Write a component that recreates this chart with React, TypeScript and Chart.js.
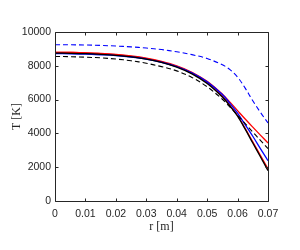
import React, { useEffect, useRef } from "react";
import { Chart, registerables } from "chart.js";

Chart.register(...registerables);

const radius = [0, 0.005, 0.01, 0.015, 0.02, 0.025, 0.03, 0.035, 0.04, 0.045, 0.05, 0.055, 0.0575, 0.06, 0.0625, 0.065, 0.0675, 0.07];
const blueDashed = [9250, 9245, 9230, 9205, 9170, 9120, 9050, 8960, 8830, 8660, 8430, 8060, 7770, 7330, 6680, 5930, 5250, 4620];
const redUpper = [8800, 8790, 8770, 8730, 8670, 8580, 8450, 8260, 8000, 7620, 7080, 6320, 5850, 5350, 4850, 4370, 3900, 3430];
const blackDashed = [8550, 8540, 8510, 8470, 8400, 8300, 8150, 7950, 7700, 7310, 6760, 6020, 5560, 5080, 4580, 4080, 3590, 3100];
const blackSolid = [8750, 8740, 8720, 8680, 8620, 8530, 8400, 8200, 7920, 7520, 6950, 6150, 5620, 5020, 4250, 3430, 2620, 1800];
const blueSolid = [8720, 8710, 8690, 8650, 8600, 8520, 8400, 8210, 7950, 7580, 7050, 6300, 5780, 5200, 4520, 3830, 3100, 2380];
const redLower = [8800, 8790, 8770, 8720, 8660, 8560, 8430, 8230, 7960, 7570, 7000, 6200, 5660, 5060, 4300, 3500, 2700, 1900];

const xTicks = [0, 0.01, 0.02, 0.03, 0.04, 0.05, 0.06, 0.07];
const yTicks = [0, 2000, 4000, 6000, 8000, 10000];

const AXIS_COLOR = "#262626";

const boxPlugin = {
  id: "matlabBox",
  afterDatasetsDraw(chart: any) {
    const { ctx, chartArea } = chart;
    const { left, right, top, bottom } = chartArea;
    const L = Math.round(left) + 0.5;
    const R = Math.round(right) + 0.5;
    const T = Math.round(top) + 0.5;
    const B = Math.round(bottom) + 0.5;
    const len = 3;
    ctx.save();
    ctx.strokeStyle = AXIS_COLOR;
    ctx.lineWidth = 1;
    ctx.beginPath();
    ctx.rect(L, T, R - L, B - T);
    ctx.stroke();
    const xs = chart.scales.x;
    const ys = chart.scales.y;
    ctx.beginPath();
    xs.ticks.forEach((t: any) => {
      const px = Math.round(xs.getPixelForValue(t.value)) + 0.5;
      ctx.moveTo(px, B);
      ctx.lineTo(px, B - len);
      ctx.moveTo(px, T);
      ctx.lineTo(px, T + len);
    });
    ys.ticks.forEach((t: any) => {
      const py = Math.round(ys.getPixelForValue(t.value)) + 0.5;
      ctx.moveTo(L, py);
      ctx.lineTo(L + len, py);
      ctx.moveTo(R, py);
      ctx.lineTo(R - len, py);
    });
    ctx.stroke();
    ctx.restore();
  },
};

function series(label: string, data: number[], color: string, dashed: boolean) {
  return {
    label,
    data: radius.map((r, i) => ({ x: r, y: data[i] })),
    borderColor: color,
    backgroundColor: color,
    borderWidth: dashed ? 1.1 : 1.3,
    borderDash: dashed ? [5, 3] : [],
    pointRadius: 0,
    tension: 0.35,
    fill: false,
  };
}

export default function App() {
  const ref = useRef<HTMLCanvasElement | null>(null);
  useEffect(() => {
    if (!ref.current) return;
    const tickFont = { family: "'Liberation Sans', Arial, sans-serif", size: 10.5 };
    const titleFont = { family: "'Liberation Serif', 'DejaVu Serif', serif", size: 12 };
    const chart = new Chart(ref.current, {
      type: "line",
      data: {
        datasets: [
          series("blackDashed", blackDashed, "#000000", true),
          series("blueDashed", blueDashed, "#0000ff", true),
          series("blackSolid", blackSolid, "#000000", false),
          series("blueSolid", blueSolid, "#0000ff", false),
          series("redLower", redLower, "#ff0000", false),
          series("redUpper", redUpper, "#ff0000", false),
        ],
      },
      options: {
        animation: false,
        responsive: false,
        devicePixelRatio: 1,
        parsing: false as any,
        layout: { padding: { left: 0, top: 32, right: 32, bottom: 0 } },
        plugins: { legend: { display: false }, tooltip: { enabled: false } },
        scales: {
          x: {
            type: "linear",
            min: 0,
            max: 0.07,
            grid: { display: false, drawTicks: false, tickLength: 0 },
            border: { display: false },
            afterBuildTicks: (s: any) => {
              s.ticks = xTicks.map((v) => ({ value: v }));
            },
            afterFit: (s: any) => {
              s.height = 49;
            },
            ticks: {
              autoSkip: false,
              maxRotation: 0,
              padding: 7,
              color: AXIS_COLOR,
              font: tickFont,
              callback: (v: any) => String(Number(Number(v).toFixed(2))),
            },
            title: {
              display: true,
              text: "r [m]",
              color: AXIS_COLOR,
              font: titleFont,
              padding: { top: 0, bottom: 16 },
            },
          },
          y: {
            type: "linear",
            min: 0,
            max: 10000,
            grid: { display: false, drawTicks: false, tickLength: 0 },
            border: { display: false },
            afterBuildTicks: (s: any) => {
              s.ticks = yTicks.map((v) => ({ value: v }));
            },
            afterFit: (s: any) => {
              s.width = 55;
            },
            ticks: {
              autoSkip: false,
              padding: 4,
              color: AXIS_COLOR,
              font: tickFont,
              callback: (v: any) => String(v),
            },
            title: {
              display: true,
              text: "T [K]",
              color: AXIS_COLOR,
              font: titleFont,
              padding: { top: 10, bottom: 0 },
            },
          },
        },
      },
      plugins: [boxPlugin],
    });
    return () => chart.destroy();
  }, []);
  return (
    <div style={{ position: "fixed", left: 0, top: 0, width: 300, height: 250, background: "#fff" }}>
      <canvas ref={ref} width={300} height={250} style={{ width: 300, height: 250, display: "block" }} />
    </div>
  );
}
